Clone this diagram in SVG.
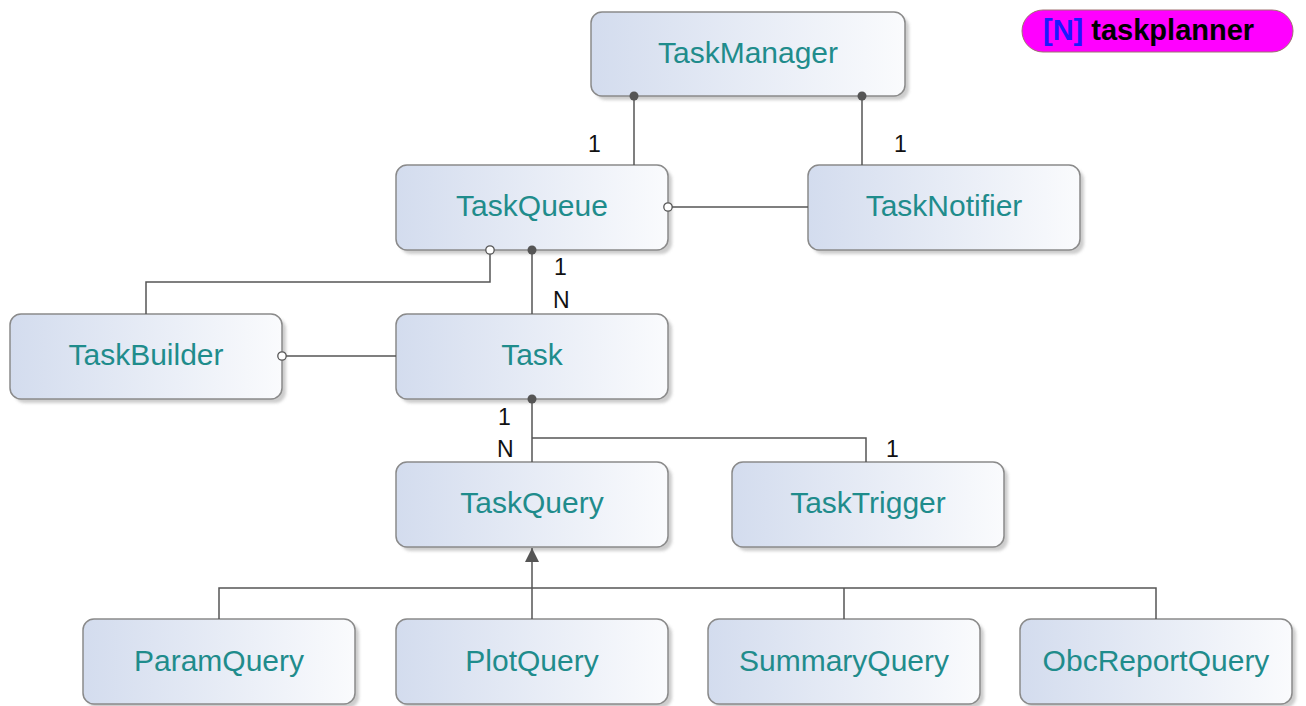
<svg xmlns="http://www.w3.org/2000/svg" width="1306" height="706" viewBox="0 0 1306 706">
  <style>
    .box { fill: url(#nodeFill); stroke: #8a8a8a; stroke-width: 1.5; }
    .shadow { fill: #c4c4c4; opacity: 0.85; }
    .name { font-family: "Liberation Sans", Arial, sans-serif; font-size: 30px; fill: #1f8c8c; text-anchor: middle; }
    .mult { font-family: "Liberation Sans", Arial, sans-serif; font-size: 23px; fill: #111; }
    .conn { fill: none; stroke: #555; stroke-width: 1.5; }
    .dot { fill: #555; }
    .ring { fill: #fff; stroke: #555; stroke-width: 1.3; }
  </style>
  <defs>
    <linearGradient id="nodeFill" x1="0" y1="0" x2="1" y2="0">
      <stop offset="0" stop-color="#d3dcee"/>
      <stop offset="1" stop-color="#fafbfd"/>
    </linearGradient>
    <filter id="soft" x="-5%" y="-5%" width="110%" height="120%">
      <feGaussianBlur stdDeviation="1.5"/>
    </filter>
    <marker id="genArrow" markerWidth="16" markerHeight="16" refX="14" refY="7" orient="auto" markerUnits="userSpaceOnUse">
      <path d="M0,0 L14,7 L0,14 Z" fill="#555"/>
    </marker>
  </defs>

  <rect width="1306" height="706" fill="#ffffff"/>

  <!-- package badge -->
  <g id="badge">
    <rect x="1022" y="10" width="271" height="42" rx="21" fill="#ff00ff" stroke="#a07070" stroke-width="1"/>
    <text x="1043" y="40" font-family="Liberation Sans, Arial, sans-serif" font-size="29" font-weight="bold"><tspan fill="#1a1aff">[N]</tspan><tspan fill="#000"> taskplanner</tspan></text>
  </g>

  <!-- nodes -->
  <g id="TaskManager">
    <rect class="shadow" x="595" y="16" width="314" height="84" rx="11" filter="url(#soft)"/>
    <rect class="box" x="591" y="12" width="314" height="84" rx="11"/>
    <text class="name" x="748" y="63">TaskManager</text>
  </g>
  <g id="TaskQueue">
    <rect class="shadow" x="400" y="169" width="272" height="85" rx="11" filter="url(#soft)"/>
    <rect class="box" x="396" y="165" width="272" height="85" rx="11"/>
    <text class="name" x="532" y="216">TaskQueue</text>
  </g>
  <g id="TaskNotifier">
    <rect class="shadow" x="812" y="169" width="272" height="85" rx="11" filter="url(#soft)"/>
    <rect class="box" x="808" y="165" width="272" height="85" rx="11"/>
    <text class="name" x="944" y="216">TaskNotifier</text>
  </g>
  <g id="TaskBuilder">
    <rect class="shadow" x="14" y="318" width="272" height="85" rx="11" filter="url(#soft)"/>
    <rect class="box" x="10" y="314" width="272" height="85" rx="11"/>
    <text class="name" x="146" y="365">TaskBuilder</text>
  </g>
  <g id="Task">
    <rect class="shadow" x="400" y="318" width="272" height="85" rx="11" filter="url(#soft)"/>
    <rect class="box" x="396" y="314" width="272" height="85" rx="11"/>
    <text class="name" x="532" y="365">Task</text>
  </g>
  <g id="TaskQuery">
    <rect class="shadow" x="400" y="466" width="272" height="85" rx="11" filter="url(#soft)"/>
    <rect class="box" x="396" y="462" width="272" height="85" rx="11"/>
    <text class="name" x="532" y="513">TaskQuery</text>
  </g>
  <g id="TaskTrigger">
    <rect class="shadow" x="736" y="466" width="272" height="85" rx="11" filter="url(#soft)"/>
    <rect class="box" x="732" y="462" width="272" height="85" rx="11"/>
    <text class="name" x="868" y="513">TaskTrigger</text>
  </g>
  <g id="ParamQuery">
    <rect class="shadow" x="87" y="623" width="272" height="85" rx="11" filter="url(#soft)"/>
    <rect class="box" x="83" y="619" width="272" height="85" rx="11"/>
    <text class="name" x="219" y="671">ParamQuery</text>
  </g>
  <g id="PlotQuery">
    <rect class="shadow" x="400" y="623" width="272" height="85" rx="11" filter="url(#soft)"/>
    <rect class="box" x="396" y="619" width="272" height="85" rx="11"/>
    <text class="name" x="532" y="671">PlotQuery</text>
  </g>
  <g id="SummaryQuery">
    <rect class="shadow" x="712" y="623" width="272" height="85" rx="11" filter="url(#soft)"/>
    <rect class="box" x="708" y="619" width="272" height="85" rx="11"/>
    <text class="name" x="844" y="671">SummaryQuery</text>
  </g>
  <g id="ObcReportQuery">
    <rect class="shadow" x="1024" y="623" width="272" height="85" rx="11" filter="url(#soft)"/>
    <rect class="box" x="1020" y="619" width="272" height="85" rx="11"/>
    <text class="name" x="1156" y="671">ObcReportQuery</text>
  </g>

  <!-- connectors, drawn above the nodes so the end marks sit on the borders -->
  <g id="connectors">
    <!-- TaskManager to TaskQueue / TaskNotifier -->
    <path class="conn" d="M634,96 V165"/>
    <circle class="dot" cx="634" cy="96" r="4.5"/>
    <path class="conn" d="M862,96 V165"/>
    <circle class="dot" cx="862" cy="96" r="4.5"/>
    <!-- TaskQueue to TaskNotifier -->
    <path class="conn" d="M672,207 H808"/>
    <circle class="ring" cx="668" cy="207" r="4.2"/>
    <!-- TaskQueue to TaskBuilder -->
    <path class="conn" d="M490,254 V282 H146 V314"/>
    <circle class="ring" cx="490" cy="250" r="4.2"/>
    <!-- TaskQueue to Task -->
    <path class="conn" d="M532,250 V314"/>
    <circle class="dot" cx="532" cy="250" r="4.5"/>
    <!-- TaskBuilder to Task -->
    <path class="conn" d="M286,356 H396"/>
    <circle class="ring" cx="282" cy="356" r="4.2"/>
    <!-- Task to TaskQuery / TaskTrigger -->
    <path class="conn" d="M532,399 V462"/>
    <path class="conn" d="M532,438 H866 V462"/>
    <circle class="dot" cx="532" cy="399" r="4.5"/>
    <!-- query specialisations -->
    <path class="conn" d="M532,619 V548" marker-end="url(#genArrow)"/>
    <path class="conn" d="M219,619 V588 H1156 V619"/>
    <path class="conn" d="M844,588 V619"/>

    <!-- multiplicities -->
    <text class="mult" x="588" y="152">1</text>
    <text class="mult" x="894" y="152">1</text>
    <text class="mult" x="554" y="275">1</text>
    <text class="mult" x="553" y="308">N</text>
    <text class="mult" x="498" y="425">1</text>
    <text class="mult" x="497" y="457">N</text>
    <text class="mult" x="886" y="457">1</text>
  </g>
</svg>
